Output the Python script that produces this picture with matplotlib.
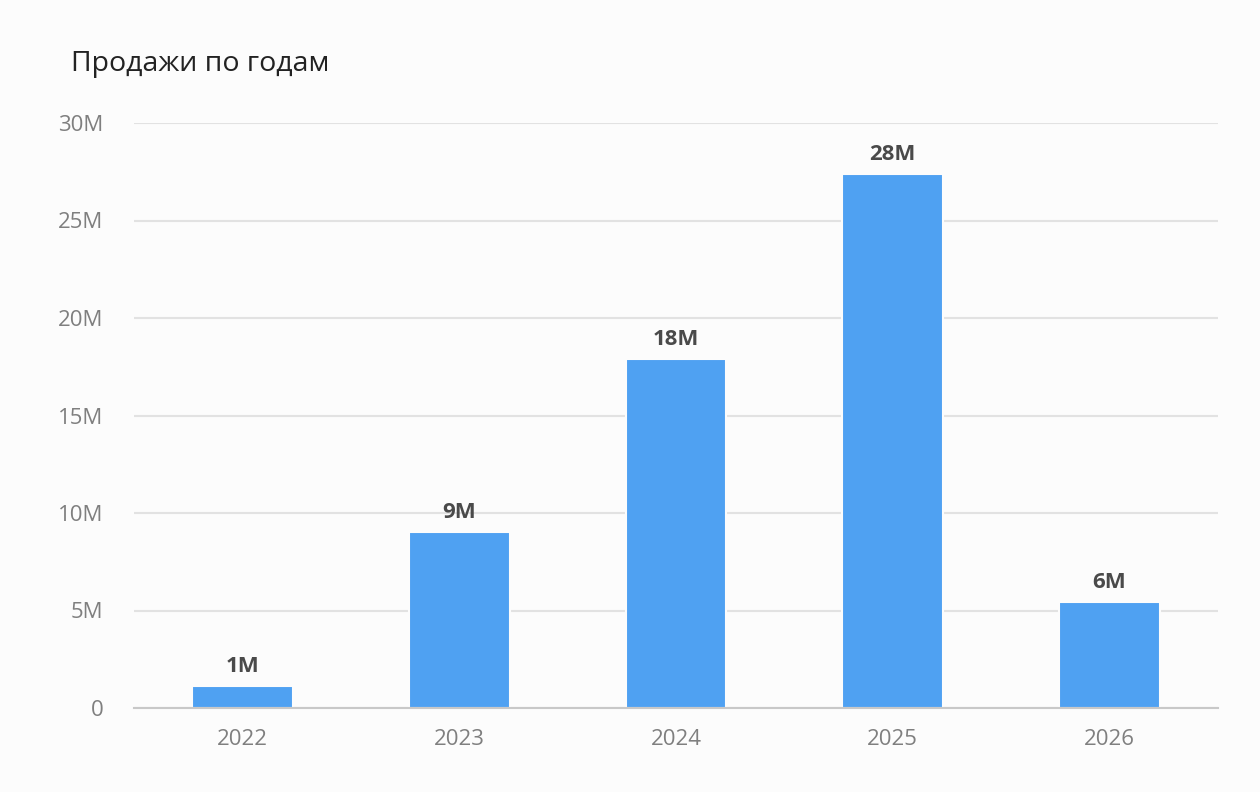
import matplotlib.pyplot as plt
from matplotlib.ticker import FuncFormatter

# Data
years = ['2022', '2023', '2024', '2025', '2026']
sales = [1.13e6, 9.05e6, 17.9e6, 27.4e6, 5.45e6]
labels = ['1M', '9M', '18M', '28M', '6M']

plt.rcParams['font.family'] = ['Open Sans', 'DejaVu Sans']

fig = plt.figure(figsize=(12.6, 7.92), dpi=100, facecolor='#fcfcfc')
ax = fig.add_axes([134 / 1260, 1 - 708 / 792, 1084 / 1260, 585 / 792])
ax.set_facecolor('#fcfcfc')

x = range(len(years))
bars = ax.bar(x, sales, width=0.465, color='#4fa1f2', edgecolor='#fcfcfc',
              linewidth=1.5, zorder=3)

for b, lab in zip(bars, labels):
    ax.annotate(lab, (b.get_x() + b.get_width() / 2, b.get_height()),
                xytext=(0, 10), textcoords='offset points', ha='center',
                va='baseline', fontsize=16, fontweight='bold', color='#4a4a4a')

ax.set_xlim(-0.5, 4.5)
ax.set_ylim(0, 30e6)
ax.set_yticks([0, 5e6, 10e6, 15e6, 20e6, 25e6, 30e6])
ax.yaxis.set_major_formatter(FuncFormatter(
    lambda v, p: '0' if v == 0 else f'{v / 1e6:.0f}M'))
ax.set_xticks(list(x))
ax.set_xticklabels(years)

ax.grid(axis='y', color='#e2e2e2', linewidth=1.5, zorder=0)
for s in ['top', 'right', 'left']:
    ax.spines[s].set_visible(False)
ax.spines['bottom'].set_color('#c8c8c8')
ax.spines['bottom'].set_linewidth(1.5)
ax.spines['bottom'].set_zorder(4)
ax.tick_params(length=0, labelsize=16, colors='#7f7f7f')
ax.tick_params(axis='y', pad=22)
ax.tick_params(axis='x', pad=15)

fig.text(71 / 1260, 1 - 71 / 792, 'Продажи по годам', fontsize=20.5,
         color='#222222', ha='left', va='baseline')

fig.savefig('out.png', dpi=100, facecolor=fig.get_facecolor())
